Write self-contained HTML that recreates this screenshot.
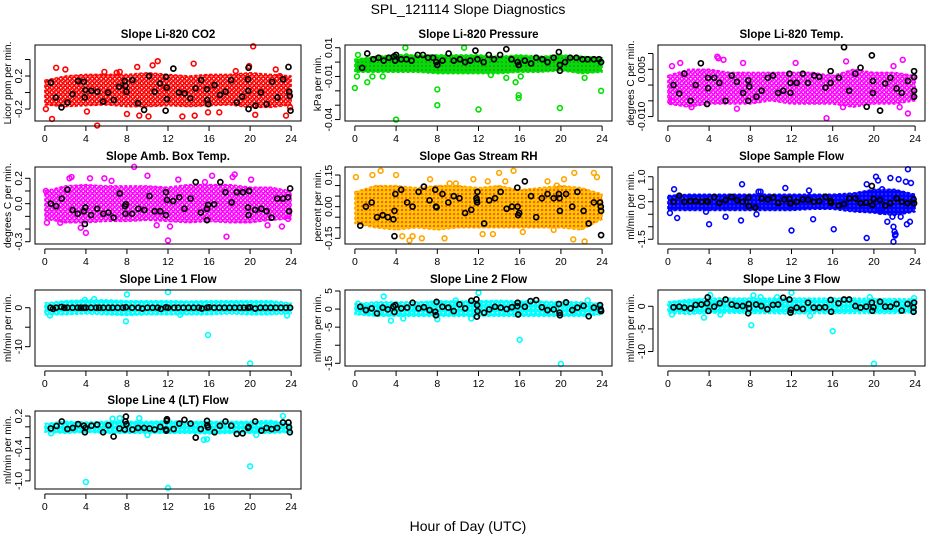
<!DOCTYPE html>
<html><head><meta charset="utf-8"><style>
html,body{margin:0;padding:0;background:#fff;}
svg{display:block;font-family:"Liberation Sans",Arial,sans-serif;}
</style></head><body>
<svg id="chart" width="936" height="540" viewBox="0 0 936 540" xmlns="http://www.w3.org/2000/svg">
<defs>
<pattern id="p-red" width="4.5" height="4.5" patternUnits="userSpaceOnUse"><rect width="4.5" height="4.5" fill="#fff"/><circle cx="2.25" cy="2.25" r="1.6" fill="none" stroke="#ff0000" stroke-width="1.5"/><circle cx="0" cy="0" r="1" fill="#ff0000"/><circle cx="4.5" cy="4.5" r="1" fill="#ff0000"/></pattern>
<pattern id="p-green" width="4" height="4" patternUnits="userSpaceOnUse"><rect width="4" height="4" fill="#00e000"/><circle cx="2" cy="2" r="0.8" fill="#555"/></pattern>
<pattern id="p-magenta" width="4.5" height="4.5" patternUnits="userSpaceOnUse"><rect width="4.5" height="4.5" fill="#fff"/><circle cx="2.25" cy="2.25" r="1.6" fill="none" stroke="#ff00ff" stroke-width="1.5"/><circle cx="0" cy="0" r="1" fill="#ff00ff"/><circle cx="4.5" cy="4.5" r="1" fill="#ff00ff"/></pattern>
<pattern id="p-orange" width="4" height="4" patternUnits="userSpaceOnUse"><rect width="4" height="4" fill="#ffc000"/><circle cx="2" cy="2" r="0.9" fill="#ff2000"/><circle cx="0" cy="0" r="0.6" fill="#fff"/></pattern>
<pattern id="p-blue" width="4" height="4" patternUnits="userSpaceOnUse"><rect width="4" height="4" fill="#0000ff"/><circle cx="2" cy="2" r="0.6" fill="#8080ff"/></pattern>
<pattern id="p-cyan" width="4.5" height="4.5" patternUnits="userSpaceOnUse"><rect width="4.5" height="4.5" fill="#00ffff"/><circle cx="2.25" cy="2.25" r="0.7" fill="#fff"/></pattern>
</defs>
<text x="468" y="14" text-anchor="middle" font-size="14">SPL_121114  Slope Diagnostics</text>
<text x="468" y="531" text-anchor="middle" font-size="14">Hour of Day (UTC)</text>
</svg>
<script>
// shared x ticks
const hourTicks = [0,4,8,12,16,20,24];
const bandHours = [0,2,4,6,8,10,12,14,16,18,20,22,24];

// Panel 1: Li-820 CO2
const co2BandHi = [0.15,0.2,0.22,0.22,0.22,0.24,0.22,0.2,0.22,0.22,0.24,0.22,0.2];
const co2BandLo = [-0.15,-0.17,-0.16,-0.15,-0.17,-0.17,-0.16,-0.17,-0.16,-0.15,-0.18,-0.18,-0.15];
const co2Out = [[0.1,-0.2],[0.7,-0.32],[1.1,0.3],[2.0,0.28],[4.1,-0.23],[5.1,-0.4],[5.8,0.25],[7.0,0.24],[7.3,0.25],[8.0,-0.26],[9.0,0.31],[9.2,-0.28],[10.1,-0.29],[10.5,0.33],[11.0,0.38],[13.4,-0.29],[14.5,0.35],[14.6,-0.28],[15.9,-0.24],[19.9,0.32],[20.3,0.56],[20.5,-0.27],[22.5,0.28],[22.9,0.2],[23.5,-0.28],[23.9,-0.18],[17.0,-0.24],[18.6,0.26]];
const co2Black = [[0.58,0.12],[1.07,-0.06],[1.62,-0.18],[2.21,-0.12],[2.69,-0.02],[3.24,0.14],[3.79,0.13],[3.89,-0.06],[3.96,0.03],[4.54,0.02],[5.12,0.01],[5.68,-0.11],[6.16,0.0],[6.71,-0.09],[7.23,0.07],[7.78,0.14],[7.85,0.08],[7.95,0.01],[8.53,0.15],[9.08,-0.13],[9.67,-0.21],[10.15,0.2],[10.7,0.01],[11.22,0.11],[11.81,0.19],[11.87,0.06],[11.9,-0.08],[11.77,-0.22],[12.52,0.29],[13.07,0.0],[13.62,-0.01],[14.17,-0.07],[14.69,0.05],[15.24,0.15],[15.8,0.04],[15.83,-0.09],[15.93,-0.14],[16.54,0.09],[17.06,-0.03],[17.61,0.01],[18.16,0.15],[18.71,-0.12],[19.23,-0.05],[19.79,0.16],[19.82,0.02],[19.85,0.3],[19.85,-0.2],[20.53,-0.16],[21.05,0.0],[21.6,-0.14],[22.15,0.13],[22.67,-0.06],[23.22,0.16],[23.74,0.31],[23.81,0.01],[23.87,-0.04],[23.94,-0.22]];

// Panel 2: Li-820 Pressure
const presBandHi = [0.002,0.004,0.005,0.005,0.005,0.005,0.005,0.004,0.005,0.004,0.005,0.004,0.003];
const presBandLo = [-0.007,-0.007,-0.007,-0.007,-0.008,-0.008,-0.008,-0.008,-0.007,-0.007,-0.006,-0.008,-0.007];
const presOut = [[0.0,-0.018],[0.2,-0.01],[1.2,-0.014],[1.7,-0.01],[2.7,-0.01],[4.0,-0.04],[4.9,0.01],[8.0,-0.019],[8.0,-0.03],[10.6,0.01],[12.0,-0.033],[13.2,-0.009],[14.7,-0.011],[15.6,-0.014],[15.9,-0.023],[15.9,-0.025],[16.1,-0.01],[19.9,-0.032],[23.9,-0.02],[0.3,0.005],[5.0,0.004],[22.3,-0.011]];
const presBlack = [[0.7,-0.004],[1.2,0.006],[1.8,0.002],[2.3,0.003],[2.8,0.001],[3.3,0.003],[3.8,0.004],[3.9,0.001],[4.0,0.005],[4.5,0.002],[5.0,0.002],[5.5,0.001],[6.1,0.005],[6.6,0.005],[7.1,0.003],[7.6,0.003],[7.9,0.0],[8.0,-0.002],[8.5,0.001],[9.1,0.006],[9.6,0.001],[10.2,0.002],[10.7,0.0],[11.2,0.001],[11.7,0.008],[11.9,0.002],[12.5,0.0],[13.0,0.005],[13.5,0.002],[14.1,0.005],[14.7,0.009],[15.2,0.002],[15.8,0.0],[15.9,-0.002],[16.5,0.001],[17.1,-0.001],[17.6,0.003],[18.2,0.002],[18.7,0.0],[19.3,0.003],[19.8,0.007],[19.9,-0.006],[19.9,-0.002],[20.4,0.0],[20.9,0.003],[21.5,0.003],[22.1,0.002],[22.6,0.002],[23.2,0.002],[23.7,0.002],[23.9,0.0]];

// Panel 3: Li-820 Temp
const tempBandHi = [0.003,0.005,0.005,0.004,0.004,0.004,0.004,0.004,0.003,0.005,0.004,0.004,0.003];
const tempBandLo = [-0.006,-0.007,-0.006,-0.006,-0.006,-0.005,-0.006,-0.006,-0.006,-0.007,-0.006,-0.006,-0.005];
const tempOut = [[0.4,0.006],[1.2,0.007],[4.8,0.009],[4.9,0.0085],[7.3,0.007],[12.4,0.007],[15.4,-0.0105],[17.0,-0.007],[17.3,0.0075],[21.9,0.006],[22.8,0.008],[23.3,-0.009],[6.7,-0.0075],[0.4,-0.005],[2.3,-0.007],[22.5,-0.007],[5.4,0.008]];
const tempBlack = [[0.55,0.0],[1.1,-0.0027],[1.6,0.0036],[2.2,-0.005],[2.7,0.0],[3.2,0.0069],[3.8,-0.006],[3.9,-0.001],[3.9,0.0023],[4.5,0.0023],[5.0,0.0007],[5.6,-0.005],[6.2,0.003],[6.7,0.001],[7.3,-0.0025],[7.8,-0.005],[7.8,0.0015],[7.9,-0.0005],[8.6,-0.0037],[9.1,-0.0018],[9.7,0.0023],[10.2,0.003],[10.7,-0.0025],[11.2,-0.0018],[11.8,0.0036],[11.9,0.0007],[11.9,-0.0025],[12.5,0.0007],[13.1,0.0036],[13.6,0.0007],[14.2,0.003],[14.7,0.0026],[15.3,-0.0008],[15.8,0.0007],[15.8,0.0044],[16.6,0.0023],[17.1,0.012],[17.6,-0.0018],[18.2,0.0036],[18.7,0.0055],[19.3,-0.0069],[19.8,0.0094],[19.9,-0.0025],[19.9,0.0013],[20.6,-0.0081],[21.1,0.0005],[21.6,0.0023],[22.2,-0.0011],[22.7,-0.0025],[23.3,0.0013],[23.9,-0.0018],[23.9,-0.0037],[23.9,0.0025],[23.9,0.0044]];

// Panel 4: Amb. Box Temp
const ambBandHi = [0.1,0.14,0.15,0.14,0.14,0.14,0.13,0.15,0.15,0.15,0.13,0.13,0.1];
const ambBandLo = [-0.12,-0.15,-0.15,-0.14,-0.14,-0.13,-0.14,-0.15,-0.14,-0.15,-0.15,-0.13,-0.12];
const ambOut = [[0.2,-0.15],[1.5,-0.15],[2.4,0.2],[2.6,0.21],[3.5,-0.19],[4.0,-0.23],[4.4,0.2],[5.8,0.2],[6.5,0.18],[8.7,0.29],[10.0,0.22],[10.9,-0.17],[12.0,-0.29],[12.2,-0.18],[13.0,0.19],[15.6,0.17],[16.3,0.22],[17.7,-0.26],[18.3,0.21],[18.5,0.23],[20.1,0.19],[21.7,-0.17],[23.1,-0.18],[23.7,-0.12],[0.1,0.1]];
const ambBlack = [[0.58,0.0],[1.1,-0.02],[1.65,0.04],[2.2,0.11],[2.7,-0.05],[3.2,-0.08],[3.8,-0.06],[3.9,-0.16],[3.95,-0.03],[4.5,-0.09],[5.1,-0.04],[5.7,-0.08],[6.2,-0.07],[6.7,-0.11],[7.3,0.08],[7.8,-0.02],[7.85,-0.08],[7.9,-0.005],[8.5,-0.08],[9.1,-0.04],[9.7,-0.05],[10.2,0.06],[10.7,-0.06],[11.25,-0.06],[11.8,-0.09],[11.8,0.09],[11.9,0.03],[12.5,0.02],[13.1,0.05],[13.6,-0.04],[14.2,0.04],[14.7,0.17],[15.2,-0.07],[15.8,-0.04],[15.8,-0.13],[15.9,-0.01],[16.5,-0.005],[17.1,0.17],[17.6,0.09],[18.2,0.01],[18.7,0.09],[19.3,0.09],[19.8,-0.03],[19.85,-0.09],[19.9,0.1],[20.5,-0.05],[21.1,-0.04],[21.6,-0.06],[22.1,-0.11],[22.65,0.04],[23.2,0.04],[23.7,0.05],[23.8,-0.06],[23.9,0.12]];

// Panel 5: Gas Stream RH
const rhBandHi = [0.07,0.1,0.1,0.09,0.1,0.1,0.09,0.1,0.08,0.09,0.1,0.09,0.06];
const rhBandLo = [-0.08,-0.1,-0.11,-0.1,-0.11,-0.1,-0.1,-0.1,-0.1,-0.1,-0.1,-0.11,-0.06];
const rhOut = [[0.1,0.14],[1.7,0.15],[2.5,0.17],[4.0,0.15],[4.6,-0.14],[5.3,-0.16],[5.6,-0.14],[6.5,-0.15],[7.3,0.13],[9.2,0.11],[9.8,0.11],[11.5,0.13],[12.4,-0.13],[12.9,0.12],[13.4,-0.13],[14.0,0.16],[14.6,0.12],[15.4,0.17],[16.3,-0.12],[18.7,0.12],[19.6,0.1],[20.3,0.13],[21.2,-0.155],[21.3,0.16],[22.3,-0.165],[23.2,0.16],[23.5,0.14],[8.7,-0.15],[19.3,-0.11],[2.0,-0.08]];
const rhBlack = [[0.52,-0.09],[1.07,0.0],[1.63,0.02],[2.15,-0.05],[2.7,-0.04],[3.2,-0.05],[3.74,-0.06],[3.84,-0.02],[3.93,0.06],[3.84,-0.14],[4.5,0.08],[5.07,0.02],[5.6,0.0],[6.18,0.07],[6.7,0.095],[7.25,0.03],[7.8,0.08],[7.87,0.0],[7.93,-0.003],[8.5,0.06],[9.07,0.02],[9.6,0.05],[10.15,0.04],[10.7,-0.03],[11.3,-0.015],[11.8,0.04],[11.84,0.03],[11.87,0.02],[11.9,0.07],[12.55,-0.08],[13.04,0.03],[13.6,0.04],[14.15,0.07],[14.73,-0.01],[15.25,0.0],[15.77,0.09],[15.8,0.0],[15.85,-0.04],[15.95,-0.03],[16.5,0.12],[17.1,0.05],[17.6,-0.05],[18.15,0.04],[18.7,0.06],[19.3,0.04],[19.8,0.06],[19.87,0.04],[19.9,-0.02],[20.5,0.06],[21.1,0.0],[21.6,0.07],[22.2,-0.02],[22.7,-0.08],[23.2,0.02],[23.8,0.02],[23.87,0.0],[23.9,-0.02],[23.9,-0.135]];

// Panel 6: Sample Flow
const sfBandHi = [0.25,0.3,0.3,0.3,0.3,0.3,0.3,0.3,0.3,0.35,0.5,0.5,0.3];
const sfBandLo = [-0.35,-0.35,-0.35,-0.35,-0.35,-0.35,-0.35,-0.3,-0.3,-0.4,-0.45,-0.55,-0.4];
const sfOut = [[0.2,-0.45],[0.6,0.5],[0.9,-0.65],[3.7,-0.4],[4.0,-0.9],[5.6,-0.6],[7.2,0.7],[7.1,-0.75],[8.6,-0.5],[8.8,0.4],[9.0,0.4],[11.4,0.55],[12.0,-1.15],[13.7,0.45],[14.1,-0.7],[16.1,-1.1],[19.3,0.7],[19.3,-1.45],[20.2,1.0],[20.4,0.85],[20.8,0.5],[21.3,-0.8],[21.6,0.95],[21.8,-0.6],[21.9,-1.0],[22.0,-1.2],[22.05,-1.35],[21.9,-1.6],[22.1,-1.3],[22.4,0.9],[22.6,-0.6],[23.1,0.8],[23.3,1.3],[23.6,0.75],[23.2,-0.9],[23.5,-0.8],[19.6,-0.3],[20.6,-0.4]];
const sfBlack = [[0.55,0.0],[1.1,0.24],[1.6,0.0],[2.2,0.03],[2.7,0.03],[3.25,0.0],[3.8,0.03],[3.87,0.0],[4.5,0.19],[5.0,-0.05],[5.6,0.07],[6.2,0.19],[6.7,0.06],[7.26,0.0],[7.8,0.16],[7.85,-0.17],[8.5,-0.24],[9.1,0.13],[9.7,0.09],[10.2,0.17],[10.7,-0.05],[11.3,0.09],[11.8,0.11],[11.9,-0.06],[12.5,0.0],[13.1,0.09],[13.6,0.08],[14.16,0.0],[14.7,0.03],[15.3,0.2],[15.8,0.03],[15.85,-0.05],[16.6,-0.15],[17.1,-0.09],[17.6,0.13],[18.2,0.13],[18.7,-0.06],[19.26,-0.04],[19.8,0.63],[19.85,-0.13],[19.95,0.11],[20.6,0.07],[21.1,-0.15],[21.6,-0.06],[22.2,0.13],[22.7,0.0],[23.27,-0.06],[23.85,0.09],[23.9,-0.06]];

// Panel 7: Line 1 Flow
const l1BandHi = [1.2,1.8,2,2,1.8,1.8,1.8,1.7,1.8,1.8,1.8,1.8,1.2];
const l1BandLo = [-1.8,-1.8,-1.6,-1.8,-2,-1.8,-1.8,-1.8,-1.8,-1.6,-1.8,-1.8,-1.5];
const l1Out = [[8.0,3.4],[7.9,-3.5],[12.0,4.0],[15.9,-7.0],[20.0,-14.3],[4.8,2.2],[3.9,2.0],[0.5,-2.0],[13.2,-1.8],[23.6,-2.0]];
const l1Black = [[0.55,0],[0.8,-0.3],[1.1,0],[1.6,0.2],[1.9,0],[2.2,0],[2.7,0],[3.2,0],[3.5,0],[3.8,0],[4.0,0],[4.5,0],[5.0,0],[5.3,0],[5.7,0],[6.2,0],[6.6,0],[7.1,0],[7.6,0],[7.9,0.1],[8.5,0],[9.1,0],[9.5,-0.2],[10.0,0],[10.5,0],[11.0,0],[11.3,-0.3],[11.8,0.1],[12.0,0],[12.6,0],[13.0,0],[13.5,0],[14.0,0],[14.5,0],[15.0,0],[15.3,-0.2],[15.8,0],[16.0,0.1],[16.5,0],[17.0,0],[17.5,0],[18.0,0],[18.5,0],[19.0,0],[19.4,0],[19.8,0],[20.0,0.1],[20.5,-0.2],[21.0,0],[21.5,0],[22.0,0],[22.5,0],[23.0,0],[23.5,0],[23.9,0]];

// Panel 8: Line 2 Flow
const l2BandHi = [1.5,2,2,2,2.3,2.2,2.3,2.4,2.2,2.2,2,2,1.5];
const l2BandLo = [-1.5,-2,-2,-2,-2,-2,-2,-2,-2,-2,-2,-2,-1.5];
const l2Out = [[2.8,3.5],[3.5,-3.2],[4.7,-2.6],[8.0,-2.8],[12.0,4.5],[16.0,-8.5],[20.0,-15.2],[11.3,-2.6],[22.6,2.4],[0.3,1.5],[9.8,2.4]];
const l2Black = [[0.52,0.65],[1.07,-0.28],[1.63,0.2],[2.15,-1.2],[2.7,0.4],[3.2,-0.1],[3.74,0.7],[3.84,-0.8],[3.93,1.1],[4.5,0.2],[5.07,0.4],[5.6,1.75],[6.18,0.2],[6.7,0.5],[7.25,-0.28],[7.8,-0.74],[7.87,-1.7],[7.93,2.0],[8.5,0.65],[9.07,0.4],[9.6,-0.55],[10.15,1.3],[10.7,0.2],[11.3,2.3],[11.8,2.7],[11.84,-2.1],[11.87,1.1],[11.9,-0.55],[12.55,-1.0],[13.04,-0.1],[13.6,0.65],[14.15,0.4],[14.73,0.0],[15.25,0.55],[15.77,0.8],[15.8,1.75],[15.85,-1.5],[16.5,0.65],[17.05,2.2],[17.6,2.5],[18.15,0.5],[18.7,-0.28],[19.3,-0.1],[19.8,1.4],[19.87,-1.0],[19.9,-1.7],[20.5,1.85],[21.1,-0.28],[21.6,0.4],[22.2,0.9],[22.7,-2.0],[23.2,0.4],[23.8,1.1],[23.87,-0.1],[23.9,-0.55]];

// Panel 9: Line 3 Flow
const l3BandHi = [1,1.5,1.8,1.8,1.8,1.8,1.8,1.8,1.8,1.8,1.7,1.7,1.6];
const l3BandLo = [-1.5,-1.8,-1.5,-1.5,-1.6,-1.6,-1.7,-1.6,-1.6,-1.6,-1.6,-1.6,-1.4];
const l3Out = [[0.4,-1.8],[3.5,-2.5],[4.1,2.5],[8.1,-4.2],[8.3,2.4],[12.0,3.0],[16.0,-5.5],[20.0,-12.7],[19.6,2.0],[10.6,2.0],[9.0,2.0],[5.1,-1.8],[13.8,-2.1],[23.9,1.8]];
const l3Black = [[0.55,-0.22],[1.1,-0.08],[1.6,-0.3],[2.2,-0.45],[2.7,0.3],[3.25,0.4],[3.8,0.66],[3.87,1.98],[3.94,-1.03],[4.5,-0.08],[5.04,0.66],[5.6,1.5],[6.2,0.4],[6.7,0.1],[7.26,0.07],[7.8,-1.55],[7.85,0.5],[7.88,-0.45],[8.56,0.4],[9.07,0.07],[9.66,-0.66],[10.2,0.3],[10.7,0.4],[11.2,1.9],[11.8,1.5],[11.9,-1.4],[11.94,-0.8],[12.5,-0.3],[13.1,-0.6],[13.6,0.8],[14.16,-0.3],[14.7,-0.3],[15.26,-0.22],[15.8,1.4],[15.85,-1.2],[16.56,0.66],[17.1,1.5],[17.6,1.5],[18.2,0.07],[18.7,-0.3],[19.26,-0.08],[19.8,0.8],[19.85,-1.0],[19.95,-0.22],[20.6,1.0],[21.1,-0.08],[21.6,-0.08],[22.2,0.5],[22.7,-0.95],[23.27,0.5],[23.85,-0.3],[23.85,-1.2],[23.9,0.8]];

// Panel 10: Line 4 (LT) Flow
const l4BandHi = [0.06,0.1,0.09,0.1,0.1,0.1,0.11,0.1,0.1,0.1,0.1,0.12,0.06];
const l4BandLo = [-0.1,-0.12,-0.1,-0.12,-0.12,-0.12,-0.12,-0.12,-0.13,-0.12,-0.12,-0.12,-0.1];
const l4Out = [[4.0,-1.02],[12.0,-1.13],[20.0,-0.73],[15.5,-0.24],[15.8,-0.23],[23.2,0.2],[7.3,0.16],[0.6,-0.12],[10.0,-0.15],[6.6,0.15],[9.2,0.16],[20.6,-0.15]];
const l4Black = [[0.58,-0.03],[1.14,0.015],[1.65,0.1],[2.2,-0.04],[2.72,-0.02],[3.24,0.05],[3.8,0.02],[3.9,-0.1],[3.96,-0.02],[4.54,0.02],[5.1,0.04],[5.68,-0.1],[6.2,0.03],[6.7,-0.18],[7.27,-0.03],[7.8,-0.05],[7.85,0.1],[7.9,0.19],[7.95,0.05],[8.53,-0.05],[9.08,-0.02],[9.67,-0.02],[10.2,-0.03],[10.7,-0.05],[11.25,0.0],[11.8,-0.05],[11.84,-0.07],[11.87,0.11],[11.9,0.14],[12.55,-0.04],[13.1,0.06],[13.6,0.13],[14.2,0.06],[14.7,-0.2],[15.2,-0.04],[15.8,0.11],[15.83,0.03],[15.9,-0.01],[16.54,-0.1],[17.06,0.02],[17.6,0.1],[18.16,0.02],[18.7,-0.13],[19.27,-0.12],[19.8,-0.02],[19.85,0.0],[20.5,0.1],[21.1,-0.07],[21.6,-0.02],[22.1,-0.04],[22.64,-0.02],[23.2,0.08],[23.74,0.08],[23.8,-0.01],[23.87,-0.1]];

// y tick values and labels per panel
const co2Ticks = [-0.2,0,0.2,0.4];        const co2TickLabels = ["-0.2","","0.2",""];
const presTicks = [0.01,0,-0.01,-0.02,-0.03,-0.04]; const presTickLabels = ["0.01","","-0.01","","","-0.04"];
const tempTicks = [0.01,0.005,0,-0.005,-0.01]; const tempTickLabels = ["","0.005","","","-0.010"];
const ambTicks = [0.2,0.1,0,-0.1,-0.2,-0.3]; const ambTickLabels = ["0.2","","0.0","","","-0.3"];
const rhTicks = [0.15,0.1,0.05,0,-0.05,-0.1,-0.15]; const rhTickLabels = ["0.15","","","0.00","","","-0.15"];
const sfTicks = [1.0,0.5,0,-0.5,-1.0,-1.5]; const sfTickLabels = ["1.0","","0.0","","","-1.5"];
const l1Ticks = [0,-5,-10]; const l1TickLabels = ["0","","-10"];
const l2Ticks = [5,0,-5,-10,-15]; const l2TickLabels = ["5","0","-5","","-15"];
const l3Ticks = [0,-5,-10]; const l3TickLabels = ["0","-5","-10"];
const l4Ticks = [0.2,0,-0.2,-0.4,-0.6,-0.8,-1.0]; const l4TickLabels = ["0.2","","","-0.4","","","-1.0"];

const cols = [[35,301],[345,612],[658,925]];
const rows = [[45,121],[167,244],[290,366],[411,489]];

const panels = [
 {key:"co2",c:0,r:0,title:"Slope Li-820 CO2",ylab:"Licor ppm per min.",ymin:-0.345,ymax:0.576,pat:"p-red",col:"#ff0000",hi:co2BandHi,lo:co2BandLo,out:co2Out,blk:co2Black,ticks:co2Ticks,tl:co2TickLabels},
 {key:"pressure",c:1,r:0,title:"Slope Li-820 Pressure",ylab:"kPa per min.",ymin:-0.041,ymax:0.0119,pat:"p-green",col:"#00e000",hi:presBandHi,lo:presBandLo,out:presOut,blk:presBlack,ticks:presTicks,tl:presTickLabels},
 {key:"temp",c:2,r:0,title:"Slope Li-820 Temp.",ylab:"degrees C per min.",ymin:-0.0114,ymax:0.0127,pat:"p-magenta",col:"#ff00ff",hi:tempBandHi,lo:tempBandLo,out:tempOut,blk:tempBlack,ticks:tempTicks,tl:tempTickLabels},
 {key:"amb-temp",c:0,r:1,title:"Slope Amb. Box Temp.",ylab:"degrees C per min.",ymin:-0.318,ymax:0.289,pat:"p-magenta",col:"#ff00ff",hi:ambBandHi,lo:ambBandLo,out:ambOut,blk:ambBlack,ticks:ambTicks,tl:ambTickLabels},
 {key:"gas-rh",c:1,r:1,title:"Slope Gas Stream RH",ylab:"percent per min.",ymin:-0.177,ymax:0.188,pat:"p-orange",col:"#ffa500",hi:rhBandHi,lo:rhBandLo,out:rhOut,blk:rhBlack,ticks:rhTicks,tl:rhTickLabels},
 {key:"sample-flow",c:2,r:1,title:"Slope Sample Flow",ylab:"ml/min per min.",ymin:-1.69,ymax:1.39,pat:"p-blue",col:"#0000ff",hi:sfBandHi,lo:sfBandLo,out:sfOut,blk:sfBlack,ticks:sfTicks,tl:sfTickLabels},
 {key:"line1",c:0,r:2,title:"Slope Line 1 Flow",ylab:"ml/min per min.",ymin:-14.95,ymax:4.54,pat:"p-cyan",col:"#00ffff",hi:l1BandHi,lo:l1BandLo,out:l1Out,blk:l1Black,ticks:l1Ticks,tl:l1TickLabels},
 {key:"line2",c:1,r:2,title:"Slope Line 2 Flow",ylab:"ml/min per min.",ymin:-15.75,ymax:5.28,pat:"p-cyan",col:"#00ffff",hi:l2BandHi,lo:l2BandLo,out:l2Out,blk:l2Black,ticks:l2Ticks,tl:l2TickLabels},
 {key:"line3",c:2,r:2,title:"Slope Line 3 Flow",ylab:"ml/min per min.",ymin:-13.2,ymax:3.6,pat:"p-cyan",col:"#00ffff",hi:l3BandHi,lo:l3BandLo,out:l3Out,blk:l3Black,ticks:l3Ticks,tl:l3TickLabels},
 {key:"line4",c:0,r:3,title:"Slope Line 4 (LT) Flow",ylab:"ml/min per min.",ymin:-1.15,ymax:0.293,pat:"p-cyan",col:"#00ffff",hi:l4BandHi,lo:l4BandLo,out:l4Out,blk:l4Black,ticks:l4Ticks,tl:l4TickLabels}
];

const NS = "http://www.w3.org/2000/svg";
const svg = document.getElementById("chart");
function mk(tag, attrs, parent){
  const e = document.createElementNS(NS, tag);
  for (const k in attrs) e.setAttribute(k, attrs[k]);
  parent.appendChild(e);
  return e;
}
function xScale(p, h){ return p.l + (h + 0.96) * (p.r - p.l) / 25.92; }
function yScale(p, v){ return p.b - (v - p.ymin) * (p.b - p.t) / (p.ymax - p.ymin); }

panels.forEach(cfg => {
  const p = Object.assign({}, cfg, {l:cols[cfg.c][0], r:cols[cfg.c][1], t:rows[cfg.r][0], b:rows[cfg.r][1]});
  const g = mk("g", {}, svg);
  
  
  const cx = (p.l + p.r) / 2;

  const title = mk("text", {x:cx, y:p.t - 7, "text-anchor":"middle", "font-size":"11.5", "font-weight":"bold"}, g);
  title.textContent = p.title;
  
  

  // band cloud
  let pts = [];
  bandHours.forEach((h,i)=>pts.push(xScale(p,h).toFixed(1)+","+yScale(p,p.hi[i]).toFixed(1)));
  for (let i=bandHours.length-1;i>=0;i--) pts.push(xScale(p,bandHours[i]).toFixed(1)+","+yScale(p,p.lo[i]).toFixed(1));
  const band = mk("polygon", {points:pts.join(" "), fill:"url(#"+p.pat+")", stroke:p.col, "stroke-width":"1.5", "stroke-dasharray":"3 2", "stroke-linejoin":"round"}, g);
  
  

  p.out.forEach(d => {
    const c = mk("circle", {cx:xScale(p,d[0]), cy:yScale(p,d[1]), r:2.4, fill:"none", stroke:p.col, "stroke-width":"1.6"}, g);
    
    
  });
  p.blk.forEach(d => {
    const c = mk("circle", {cx:xScale(p,d[0]), cy:yScale(p,d[1]), r:2.5, fill:"none", stroke:"#000", "stroke-width":"1.7"}, g);
    
    
  });

  const box = mk("rect", {x:p.l, y:p.t, width:p.r-p.l, height:p.b-p.t, fill:"none", stroke:"#000", "stroke-width":"1"}, g);
  
  

  // x axis
  const xa = mk("g", {}, g);
  
  
  const xl = p.b + 5;
  mk("line", {x1:xScale(p,0), x2:xScale(p,24), y1:xl, y2:xl, stroke:"#000"}, xa);
  hourTicks.forEach(h => {
    const x = xScale(p,h);
    mk("line", {x1:x, x2:x, y1:xl, y2:xl+5, stroke:"#000"}, xa);
    const t = mk("text", {x:x, y:xl+16, "text-anchor":"middle", "font-size":"10.5"}, xa);
    t.textContent = h;
    
    
  });

  // y axis
  const ya = mk("g", {}, g);
  
  
  const yl = p.l - 5;
  const ys = p.ticks.map(v=>yScale(p,v));
  mk("line", {x1:yl, x2:yl, y1:Math.min(...ys), y2:Math.max(...ys), stroke:"#000"}, ya);
  p.ticks.forEach((v,i) => {
    const y = yScale(p,v);
    mk("line", {x1:yl-5, x2:yl, y1:y, y2:y, stroke:"#000"}, ya);
    if (p.tl[i]) {
      const t = mk("text", {x:yl-8, y:y, "text-anchor":"middle", "font-size":"10.5", transform:"rotate(-90 "+(yl-8)+" "+y+")"}, ya);
      t.textContent = p.tl[i];
      
      
    }
  });
  const ytx = p.l - 24, yty = (p.t + p.b)/2;
  const yt = mk("text", {x:ytx, y:yty, "text-anchor":"middle", "font-size":"10", transform:"rotate(-90 "+ytx+" "+yty+")"}, g);
  yt.textContent = p.ylab;
  
  
});
</script>
</body></html>
